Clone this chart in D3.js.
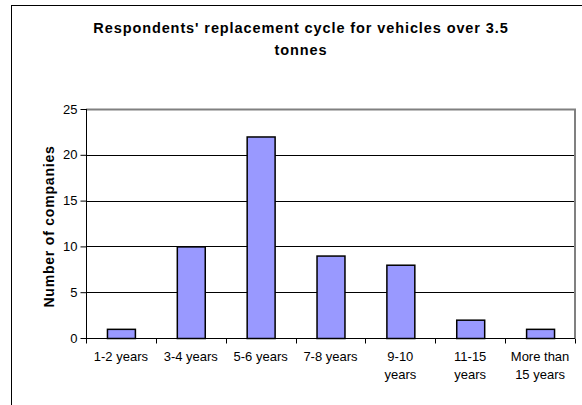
<!DOCTYPE html>
<html><head><meta charset="utf-8">
<script src="https://cdn.jsdelivr.net/npm/d3@7"></script>
<style>body{margin:0;background:#fff}svg{display:block}</style>
</head><body>
<script>
const categories = ["1-2 years","3-4 years","5-6 years","7-8 years","9-10\nyears","11-15\nyears","More than\n15 years"];
const values = [1,10,22,9,8,2,1];
const yTicks = [0,5,10,15,20,25];
const title = ["Respondents' replacement cycle for vehicles over 3.5","tonnes"];
const yTitle = "Number of companies";

const W=582,H=405;
const FONT="Arial, 'Liberation Sans'";
const svg=d3.select("body").append("svg").attr("width",W).attr("height",H);
svg.append("rect").attr("x",11.5).attr("y",5.5).attr("width",620).attr("height",500).attr("fill","#fff").attr("stroke","#000");

const L=86,R=575,T=109,B=338;
const x=d3.scaleBand().domain(categories).range([L,R]).paddingInner(0.6).paddingOuter(0.3);
const xb=d3.scaleBand().domain(categories).range([L,R]);
const y=d3.scaleLinear().domain([0,25]).range([B,T]);

// gridlines
svg.append("g").selectAll("line").data(yTicks.filter(t=>t>0&&t<25)).join("line")
 .attr("x1",L).attr("x2",R).attr("y1",d=>Math.round(y(d))+0.5).attr("y2",d=>Math.round(y(d))+0.5).attr("stroke","#000");
// plot border top/right gray
svg.append("path").attr("d",`M${L},${T+0.5}H${R}V${B}`).attr("fill","none").attr("stroke","#808080").attr("stroke-width",2);

// bars
svg.append("g").selectAll("rect").data(values).join("rect")
 .attr("x",(d,i)=>x(categories[i])+0.5).attr("width",x.bandwidth())
 .attr("y",d=>y(d)+0.5).attr("height",d=>B-y(d))
 .attr("fill","#9999FF").attr("stroke","#000").attr("stroke-width",1.5);

// y axis
const ya=svg.append("g").attr("transform",`translate(${L+0.5},0)`)
 .call(d3.axisLeft(y).tickValues(yTicks).tickSize(6).tickPadding(3));
ya.select(".domain").attr("d",`M0,${T}V${B}`).attr("stroke","#000");
ya.selectAll("text").attr("font-family",FONT).attr("font-size",13).attr("fill","#000");

// x axis
const xa=svg.append("g").attr("transform",`translate(0,${B+0.5})`);
xa.append("line").attr("x1",L).attr("x2",R).attr("stroke","#000");
xa.selectAll("line.t").data(d3.range(categories.length+1)).join("line").attr("class","t")
 .attr("x1",i=>Math.round(L+i*xb.step())+0.5).attr("x2",i=>Math.round(L+i*xb.step())+0.5).attr("y1",0).attr("y2",5).attr("stroke","#000");
const lab=xa.selectAll("text").data(categories).join("text")
 .attr("x",d=>xb(d)+xb.bandwidth()/2).attr("y",22)
 .attr("text-anchor","middle").attr("font-family",FONT).attr("font-size",13).attr("fill","#000");
lab.each(function(d){const s=d3.select(this);d.split("\n").forEach((t,j)=>s.append("tspan").attr("x",xb(d)+xb.bandwidth()/2).attr("dy",j?18:0).text(t));});

// titles
svg.append("text").attr("text-anchor","middle").attr("font-family",FONT).attr("font-weight","bold").attr("font-size",14.5)
 .attr("letter-spacing",0.9)
 .selectAll("tspan").data(title).join("tspan").attr("x",301).attr("y",(d,i)=>33+i*22).text(d=>d);
svg.append("text").attr("transform",`translate(54,${(T+B)/2+3}) rotate(-90)`).attr("text-anchor","middle")
 .attr("font-family",FONT).attr("font-weight","bold").attr("font-size",14).attr("letter-spacing",0.8).text(yTitle);
</script>
</body></html>
